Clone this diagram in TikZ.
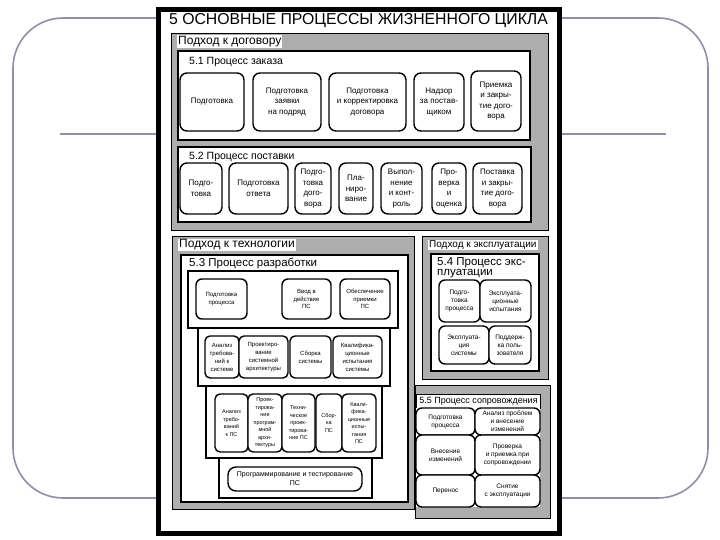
\documentclass[tikz,border=0pt]{standalone}
\usepackage{fontspec}
\setmainfont{Liberation Sans}
\definecolor{slideline}{HTML}{8E8EAE}
% one rounded process box from its corners: [style]{name}{x1}{y1}{x2}{y2}{text}
\newcommand{\stagebox}[7][]{%
  \node[stage,#1,minimum width={#5-#3},minimum height={#6-#4}] (#2) at ({(#3+#5)/2},{(#4+#6)/2}) {#7};}

\begin{document}
\begin{tikzpicture}[x=1pt,y=-1pt]
  \tikzstyle{slide}=[draw=slideline,line width=1.6pt,rounded corners=50pt]
  \tikzstyle{band}=[draw=black,fill=black!32,line width=0.8pt]
  \tikzstyle{procbox}=[draw=black,fill=white,line width=1.3pt]
  \tikzstyle{tier}=[draw=black,fill=white,line width=1.2pt]
  \tikzstyle{bandlabel}=[fill=white,inner sep=1pt,anchor=west,font=\fontsize{12}{13}\selectfont]
  \tikzstyle{proclabel}=[inner sep=0pt,anchor=west,font=\fontsize{10.5}{12}\selectfont]
  \tikzstyle{stage}=[draw,fill=white,line width=1.4pt,rounded corners=7pt,align=center,inner sep=0.5pt,font=\fontsize{8}{10.5}\selectfont]
  \tikzstyle{devA}=[rounded corners=6pt,font=\fontsize{6}{7.5}\selectfont]
  \tikzstyle{devB}=[rounded corners=5pt,font=\fontsize{6}{8}\selectfont]
  \tikzstyle{devC}=[rounded corners=5pt,font=\fontsize{5.5}{7.5}\selectfont]
  \tikzstyle{ops}=[rounded corners=6pt,font=\fontsize{6.5}{8}\selectfont]

  \useasboundingbox (0,0) rectangle (720,540);
  % slide behind the scan
  \draw[slide] (13,18) rectangle (708,498);
  \draw[slideline,line width=2.5pt] (60,134) -- (666,134);

  % the sheet
  \draw[line width=5pt,fill=white] (158.5,9.5) rectangle (559.5,533.5);
  \node[font=\fontsize{15.8}{18}\selectfont,inner sep=0pt] (title) at (358.5,21) {5 ОСНОВНЫЕ ПРОЦЕССЫ ЖИЗНЕННОГО ЦИКЛА};

  % contract approach
  \draw[band] (171,33) rectangle (548,230);
  \node[bandlabel] (contract) at (177,41.5) {Подход к договору};
  \draw[procbox] (178,51) rectangle (530,140);
  \node[proclabel] (acq) at (189,61.5) {5.1 Процесс заказа};
  \stagebox{a1}{180}{73}{244}{131}{Подготовка}
  \stagebox{a2}{253}{73}{321}{131}{Подготовка\\заявки\\на подряд}
  \stagebox{a3}{329}{73}{406}{131}{Подготовка\\и корректировка\\договора}
  \stagebox{a4}{414}{73}{464}{131}{Надзор\\за постав-\\щиком}
  \stagebox{a5}{471}{71}{521}{131}{Приемка\\и закры-\\тие дого-\\вора}

  \draw[procbox] (178,147) rectangle (531,222);
  \node[proclabel] (supply) at (189,157) {5.2 Процесс поставки};
  \stagebox{b1}{180}{163}{222}{214}{Подго-\\товка}
  \stagebox{b2}{229}{163}{288}{214}{Подготовка\\ответа}
  \stagebox{b3}{295}{163}{331}{214}{Подго-\\товка\\дого-\\вора}
  \stagebox{b4}{339}{163}{373}{214}{Пла-\\ниро-\\вание}
  \stagebox{b5}{381}{163}{422}{214}{Выпол-\\нение\\и конт-\\роль}
  \stagebox{b6}{432}{163}{466}{214}{Про-\\верка\\и\\оценка}
  \stagebox{b7}{473}{163}{522}{214}{Поставка\\и закры-\\тие дого-\\вора}

  % technology approach
  \draw[band] (172,236) rectangle (414,509);
  \node[bandlabel] (tech) at (178,245) {Подход к технологии};
  \draw[procbox] (181,255) rectangle (408,502);
  \node[proclabel,font=\fontsize{11.5}{13}\selectfont] (dev) at (189,263) {5.3 Процесс разработки};
  \draw[tier] (188,271) rectangle (398,328);
  \draw[tier] (198,328) rectangle (390,386);
  \draw[tier] (206,386) rectangle (382,458);
  \draw[tier] (219,458) rectangle (372,498);
  \stagebox[devA]{c1}{196}{279}{247}{319}{Подготовка\\процесса}
  \stagebox[devA]{c2}{282}{279}{331}{319}{Ввод в\\действие\\ПС}
  \stagebox[devA]{c3}{340}{279}{390}{319}{Обеспечение\\приемки\\ПС}
  \stagebox[devB]{d1}{205}{336}{239}{378}{Анализ\\требова-\\ний к\\системе}
  \stagebox[devB]{d2}{239}{336}{288}{378}{Проектиро-\\вание\\системной\\архитектуры}
  \stagebox[devB]{d3}{290}{336}{331}{378}{Сборка\\системы}
  \stagebox[devB]{d4}{333}{336}{382}{378}{Квалифика-\\ционные\\испытания\\системы}
  \stagebox[devC]{e1}{215}{394}{248}{452}{Анализ\\требо-\\ваний\\к ПС}
  \stagebox[devC]{e2}{248}{394}{282}{452}{Проек-\\тирова-\\ние\\програм-\\мной\\архи-\\тектуры}
  \stagebox[devC]{e3}{282}{394}{315}{452}{Техни-\\ческое\\проек-\\тирова-\\ние ПС}
  \stagebox[devC]{e4}{316}{394}{342}{452}{Сбор-\\ка\\ПС}
  \stagebox[devC]{e5}{342}{394}{376}{452}{Квали-\\фика-\\ционные\\испы-\\тания\\ПС}
  \stagebox[rounded corners=8pt,font=\fontsize{7}{9}\selectfont]{f1}{228}{467}{362}{491}{Программирование и тестирование\\ПС}

  % operation approach
  \draw[band] (422,236) rectangle (548,379);
  \node[bandlabel,font=\fontsize{10}{11}\selectfont] (oper) at (428,245) {Подход к эксплуатации};
  \draw[procbox] (431,254) rectangle (539,371);
  \node[proclabel,anchor=north west,align=left,font=\fontsize{11.5}{10}\selectfont] (use) at (437,257) {5.4 Процесс экс-\\плуатации};
  \stagebox[ops]{g1}{439}{280}{480}{322}{Подго-\\товка\\процесса}
  \stagebox[ops]{g2}{480}{280}{531}{322}{Эксплуата-\\ционные\\испытания}
  \stagebox[ops]{g3}{439}{326}{489}{364}{Эксплуата-\\ция\\системы}
  \stagebox[ops]{g4}{489}{326}{531}{364}{Поддерж-\\ка поль-\\зователя}

  % maintenance
  \draw[band] (415,385) rectangle (550,518);
  \node[draw,fill=white,line width=1pt,inner sep=0pt,minimum width=124,minimum height=14,font=\fontsize{9}{10}\selectfont] (maint) at (478.5,401.5) {5.5 Процесс сопровождения};
  \fill[white] (416,408) rectangle (540,507);
  \stagebox[ops]{h1}{416}{408}{475}{435}{Подготовка\\процесса}
  \stagebox[ops]{h2}{475}{408}{540}{435}{Анализ проблем\\и внесение\\изменений}
  \stagebox[ops]{h3}{416}{435}{475}{475}{Внесение\\изменений}
  \stagebox[ops]{h4}{475}{435}{540}{475}{Проверка\\и приемка при\\сопровождении}
  \stagebox[ops]{h5}{416}{475}{475}{507}{Перенос}
  \stagebox[ops]{h6}{475}{475}{540}{507}{Снятие\\с эксплуатации}
\end{tikzpicture}
\end{document}
